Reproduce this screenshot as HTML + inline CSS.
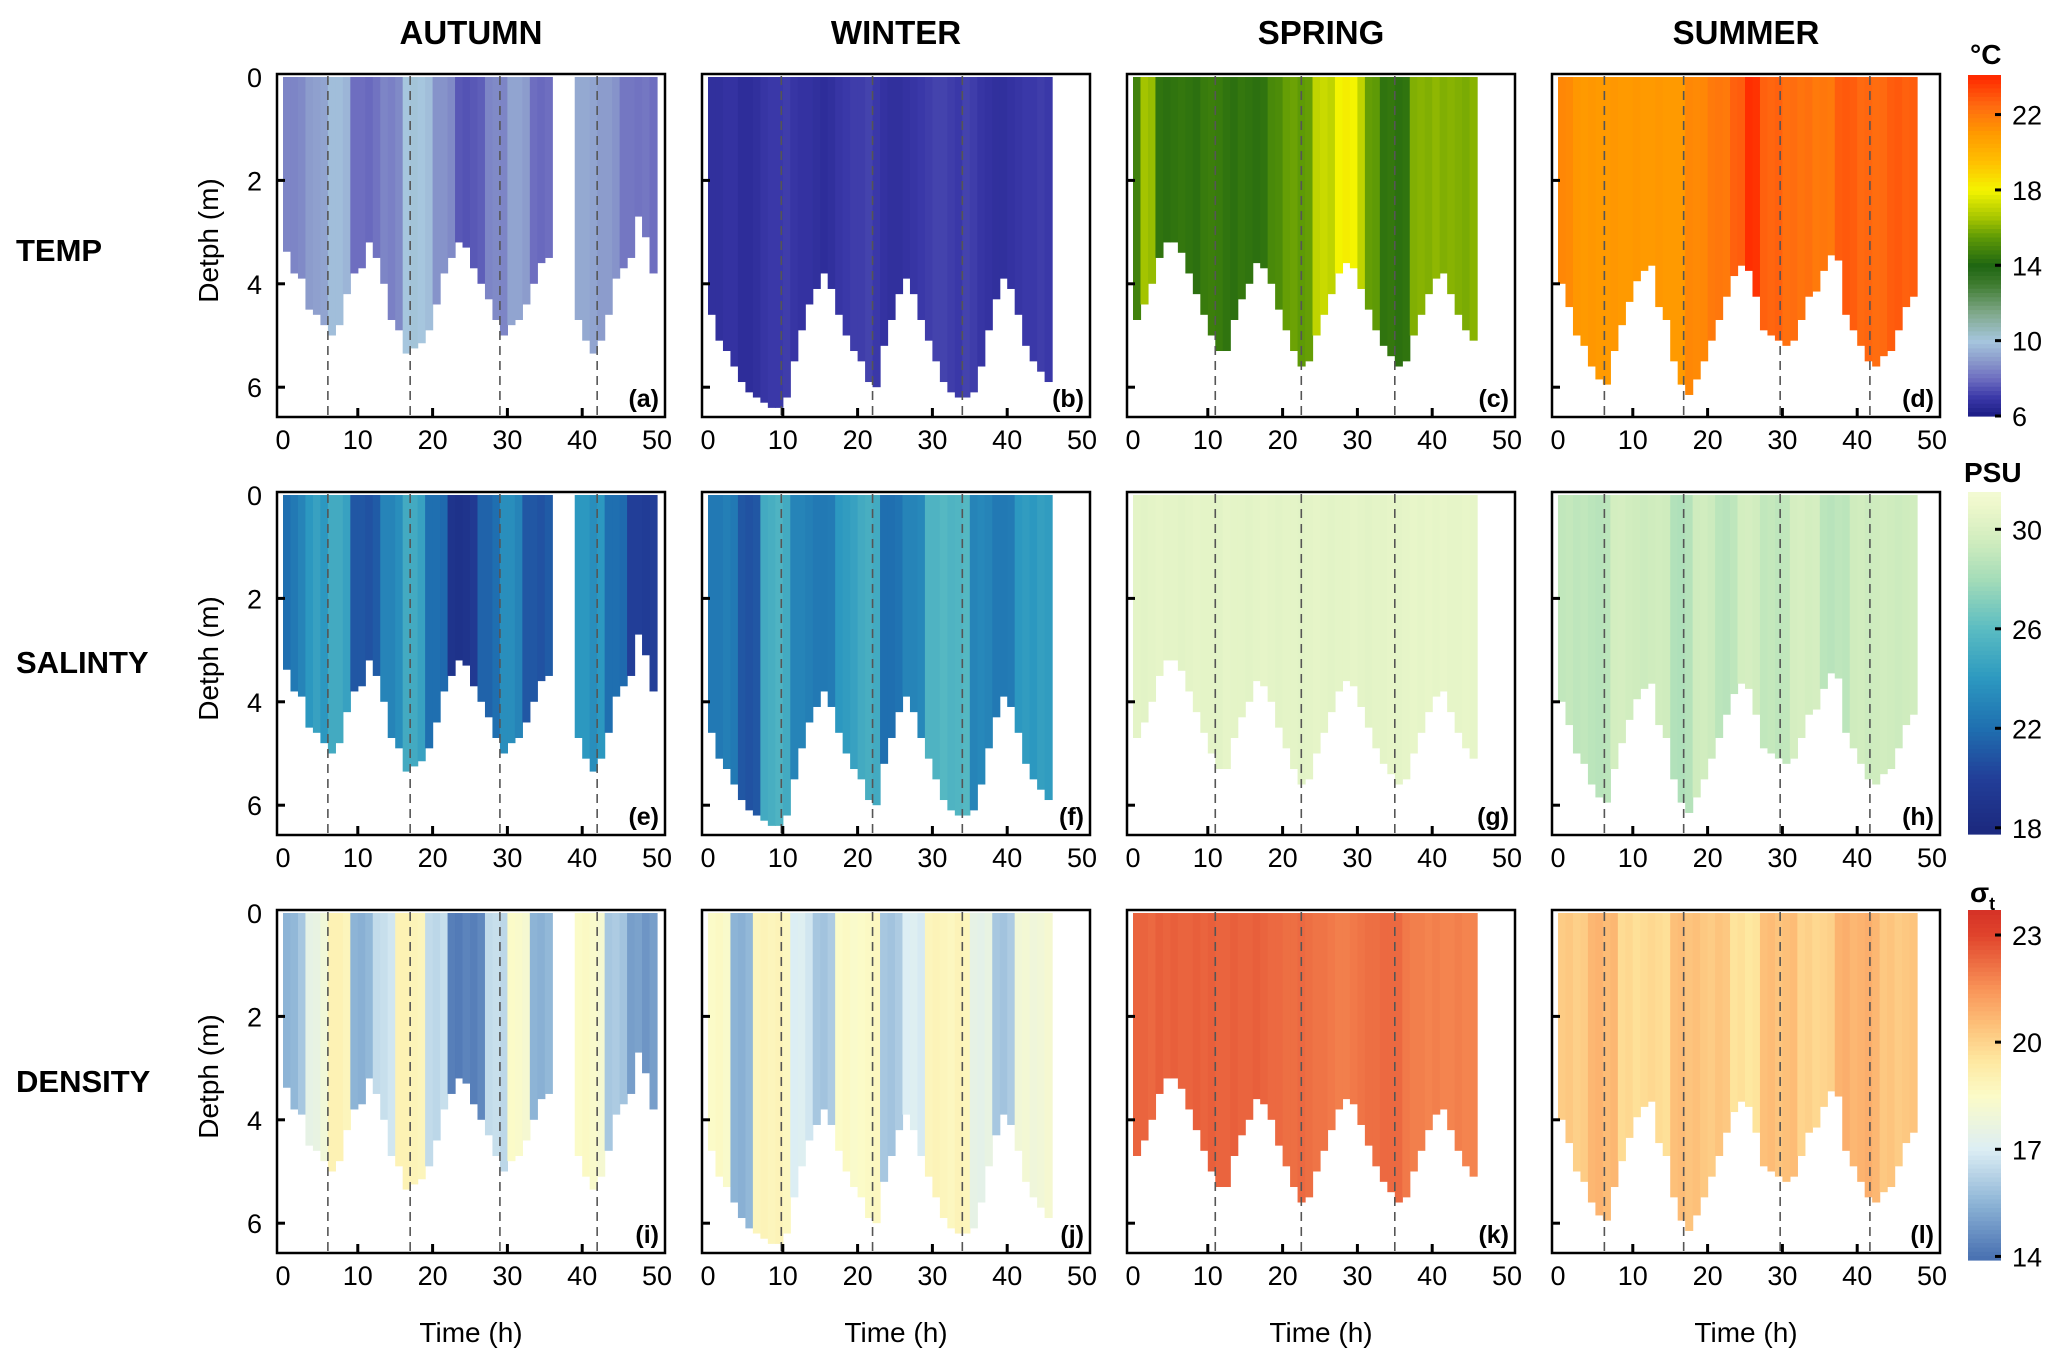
<!DOCTYPE html>
<html><head><meta charset="utf-8"><style>
html,body{margin:0;padding:0;background:#fff;}
svg{display:block;font-family:"Liberation Sans",sans-serif;}
</style></head><body>
<svg id="fig" width="2067" height="1367" viewBox="0 0 2067 1367" xmlns="http://www.w3.org/2000/svg"></svg>
<script>
// ---- data ----
const seasons = ["AUTUMN","WINTER","SPRING","SUMMER"];
const variables = ["TEMP","SALINTY","DENSITY"];
const panelLetters = ["a","b","c","d","e","f","g","h","i","j","k","l"];
const xTicks = [0,10,20,30,40,50];
const yTicks = [0,2,4,6];
const autumnHours = [0,1,2,3,4,5,6,7,8,9,10,11,12,13,14,15,16,17,18,19,20,21,22,23,24,25,26,27,28,29,30,31,32,33,34,35,39,40,41,42,43,44,45,46,47,48,49];
const autumnDepth = [3.38,3.8,3.9,4.5,4.6,4.8,5.0,4.8,4.2,3.8,3.7,3.2,3.5,4.0,4.7,4.9,5.35,5.25,5.15,4.9,4.4,3.8,3.5,3.2,3.3,3.7,4.0,4.3,4.7,5.0,4.8,4.7,4.4,4.0,3.6,3.5,4.7,5.1,5.35,5.1,4.6,3.9,3.7,3.5,2.7,3.1,3.8];
const autumnTemp = [8.5,8.5,8.6,9,9.1,9.2,9.8,9.8,9.6,8,8,7.9,8.1,8.5,8.4,8.6,10,10.1,10,9.8,8.8,8.8,8.6,7.6,7.5,7.6,7.7,8.5,8.6,8.5,9.2,9.2,9.0,8.0,7.9,8.0,9.3,9.3,9.2,9.0,9.0,8.8,8.2,8.2,8.1,8.2,8.0];
const autumnSal = [22,22.5,23,24,24.5,24,25,25,24.5,21,21,20.8,21.2,23,23,23.5,25,25,24.5,22,22,21.8,19,18.8,19,19.5,21.5,21.5,22,23.5,23.5,23,21,21,20.8,21.2,24,24,23.5,24,22,22,21.8,20,20,19.8,20];
const autumnDen = [15.5,15.6,16,17.5,17.6,18,19,19,18.8,15.5,15.4,15.6,16.5,16.6,16.8,19,19,18.9,18.8,16.5,16.4,16.6,14.3,14.2,14.4,14.3,14.5,16.5,16.6,16.4,18.5,18.4,18.2,15.5,15.4,15.6,18.5,18.6,18.4,18.2,16,16.1,15.9,15,15.1,14.8,15];
const winterHours = [0,1,2,3,4,5,6,7,8,9,10,11,12,13,14,15,16,17,18,19,20,21,22,23,24,25,26,27,28,29,30,31,32,33,34,35,36,37,38,39,40,41,42,43,44,45];
const winterDepth = [4.6,5.1,5.3,5.6,5.9,6.1,6.2,6.3,6.4,6.4,6.2,5.5,4.9,4.4,4.1,3.8,4.1,4.6,5.0,5.3,5.5,5.9,6.0,5.2,4.7,4.2,3.9,4.2,4.7,5.1,5.5,5.9,6.1,6.2,6.2,6.1,5.6,4.9,4.3,3.9,4.1,4.6,5.2,5.5,5.7,5.9];
const winterTemp = [6.7,6.7,6.8,6.8,6.6,6.6,6.7,6.9,7.0,7.0,7.1,6.9,6.8,6.8,6.7,6.6,6.7,6.9,7.0,7.1,7.1,7.2,7.0,6.8,6.7,6.7,6.8,6.9,7.0,7.1,7.2,7.2,7.1,7.0,7.2,7.1,6.9,6.8,6.7,6.7,6.8,6.9,7.0,7.0,7.1,7.0];
const winterSal = [22.5,22.5,22.8,22.5,21,20.8,21,25,25.2,25.5,25,23,23,22.8,22.5,22.5,22.6,24,24.2,24.5,25,25.2,25,22,22,22.2,23,23,23.2,25.5,25.5,25.8,25.5,25.6,25.8,23,23.2,23,22.5,22.5,22.6,24,24.2,24,24.4,24.2];
const winterDen = [18.5,18.6,18.4,15.5,15.4,15.6,18.8,18.9,18.8,18.9,18.7,17,17.1,16.8,16,15.9,16.1,18.5,18.6,18.4,18.5,18.6,18.7,16,15.9,16.1,17,17.1,16.9,18.8,18.9,18.8,18.7,18.9,18.8,17.5,17.4,17.6,16,15.9,16.1,18,18.1,17.9,18,18.2];
const springHours = winterHours;
const springDepth = [4.7,4.4,4.0,3.5,3.2,3.2,3.4,3.8,4.2,4.6,5.0,5.3,5.3,4.7,4.3,4.0,3.6,3.7,4.0,4.5,4.9,5.3,5.6,5.5,5.0,4.6,4.2,3.8,3.6,3.7,4.1,4.5,4.9,5.2,5.4,5.6,5.5,5.0,4.6,4.2,3.9,3.8,4.2,4.6,4.9,5.1];
const springTemp = [14.8,16.5,16.3,14.4,14.3,14.4,14.5,14.4,14.3,14.6,14.7,14.6,14.4,14.3,14.5,14.4,14.3,14.4,15.0,15.1,15.6,15.7,15.5,15.6,17,17.2,17,18,18.2,18,17,15.6,15.5,14.4,14.5,14.3,14.4,16,16.1,16,16.2,16,16.1,16,15.9,16.1];
const springSal = [30.5,30.4,30.5,30.6,30.5,30.5,30.4,30.5,30.6,30.5,30.5,30.4,30.6,30.5,30.5,30.4,30.5,30.6,30.5,30.4,30.5,30.5,30.4,30.5,30.6,30.5,30.4,30.5,30.5,30.6,30.5,30.4,30.5,30.5,30.6,30.5,30.6,30.7,30.6,30.7,30.6,30.7,30.6,30.6,30.7,30.6];
const springDen = [22.4,22.4,22.3,22.5,22.4,22.5,22.4,22.4,22.5,22.4,22.5,22.4,22.4,22.5,22.4,22.4,22.5,22.4,22.3,22.3,22.2,22.2,22.3,22.2,22.1,22.1,22.0,21.9,21.9,22.0,22.1,22.2,22.2,22.3,22.3,22.3,22.0,21.9,21.9,21.8,21.9,21.8,21.8,21.9,21.8,21.8];
const summerHours = [0,1,2,3,4,5,6,7,8,9,10,11,12,13,14,15,16,17,18,19,20,21,22,23,24,25,26,27,28,29,30,31,32,33,34,35,36,37,38,39,40,41,42,43,44,45,46,47];
const summerDepth = [4.0,4.45,5.0,5.2,5.6,5.85,5.95,5.3,4.8,4.35,3.95,3.75,3.65,4.45,4.7,5.5,5.95,6.15,5.85,5.5,5.1,4.7,4.25,3.85,3.65,3.75,4.25,4.9,5.0,5.1,5.2,5.1,4.7,4.25,4.15,3.75,3.45,3.55,4.6,4.9,5.2,5.5,5.6,5.4,5.3,4.9,4.45,4.25];
const summerTemp = [21.6,21.5,21.1,21,21.1,21,21,21.1,21,21,21.1,21,21,21.1,21,21,21,21.6,21.5,21.6,22,22.1,22,22.7,22.8,23.9,23.8,22.7,22.6,22.7,22.3,22.4,22.2,22.3,22,22.1,22,22.8,22.9,22.8,22.5,22.6,22.4,22.5,22.8,22.9,22.7,22.8];
const summerSal = [29,29.1,28.9,29,28.8,28.7,28.8,29.7,29.8,29.6,29.5,29.4,29.5,29.6,29.5,28.5,28.4,28.6,29.5,29.6,29.4,28.8,28.7,28.9,29.7,29.8,29.6,29,29.1,28.9,29,29.8,29.9,29.7,29.8,28.8,28.7,28.9,28.8,29.5,29.6,29.4,29.5,29.6,29.5,29.4,29.5,29.6];
const summerDen = [20.2,20.3,20.1,20.2,20.7,20.8,20.6,20.7,19.8,19.9,19.7,19.8,19.9,19.8,19.7,20.5,20.6,20.4,20.5,20.3,20.2,20.4,20.3,19.6,19.7,19.5,19.6,20.5,20.6,20.4,20.5,20.6,20,20.1,19.9,20,20.1,20.8,20.9,20.7,20.8,20.9,20.7,20.3,20.4,20.2,20.3,20.4];
const dashedTimes = [[6,17,29,42],[9.8,22,34],[11,22.5,35],[6.2,16.8,29.7,41.7]];
const tempBarTicks = [6,10,14,18,22];
const salBarTicks = [18,22,26,30];
const denBarTicks = [14,17,20,23];

// ---- layout ----
const NS="http://www.w3.org/2000/svg";
const svg=document.getElementById('fig');
const lefts=[277,702,1127,1552], tops=[74,492,910], PW=388, PH=343;
function mk(tag,attrs,parent){const e=document.createElementNS(NS,tag);for(const k in attrs)e.setAttribute(k,attrs[k]);(parent||svg).appendChild(e);return e;}
function xs(c,h){return lefts[c]+6+h*7.48;}
function ys(r,d){return tops[r]+3+d*51.7;}

function hex(h){return [parseInt(h.slice(1,3),16),parseInt(h.slice(3,5),16),parseInt(h.slice(5,7),16)];}
function cmap(stops){return v=>{if(v<=stops[0][0])return 'rgb('+hex(stops[0][1])+')';for(let i=1;i<stops.length;i++){if(v<=stops[i][0]){const t=(v-stops[i-1][0])/(stops[i][0]-stops[i-1][0]);const a=hex(stops[i-1][1]),b=hex(stops[i][1]);return 'rgb('+a.map((x,j)=>Math.round(x+(b[j]-x)*t)).join(',')+')';}}return 'rgb('+hex(stops[stops.length-1][1])+')';};}
const tempC=cmap([[6,'#1c1c84'],[7,'#3a38a8'],[8,'#6e6ec0'],[9,'#8c9ccc'],[10,'#a6c6de'],[11.5,'#7fa88a'],[13,'#3f7c30'],[14,'#1f6612'],[15.5,'#5e9a06'],[16.5,'#a4c400'],[18,'#f4f400'],[19.5,'#ffc000'],[21,'#ff9a00'],[22.5,'#ff6a10'],[24,'#ff2a00']]);
const salC=cmap([[18,'#1c2a80'],[20,'#223e98'],[22,'#1f6fb0'],[24,'#2c98c0'],[26,'#5abcc2'],[28,'#a4dcb8'],[29.5,'#cfecbe'],[31,'#eef8cc'],[32,'#f8fcda']]);
const denC=cmap([[14,'#4a72b2'],[15.5,'#8db4d6'],[17,'#dceef4'],[18.5,'#fbfbc8'],[19.5,'#fee8a0'],[20.5,'#fdc079'],[21.5,'#f99458'],[23,'#e0442c'],[24,'#d02a24']]);
const cmaps=[tempC,salC,denC];

const seasonData=[
 {hours:autumnHours,depth:autumnDepth,vals:[autumnTemp,autumnSal,autumnDen]},
 {hours:winterHours,depth:winterDepth,vals:[winterTemp,winterSal,winterDen]},
 {hours:springHours,depth:springDepth,vals:[springTemp,springSal,springDen]},
 {hours:summerHours,depth:summerDepth,vals:[summerTemp,summerSal,summerDen]}];

seasons.forEach((s,c)=>{const t=mk('text',{x:lefts[c]+PW/2,y:44,'text-anchor':'middle','font-size':33,'font-weight':'bold'});t.textContent=s;

});
const rowLabelY=[261,673,1092];
variables.forEach((v,r)=>{const t=mk('text',{x:16,y:rowLabelY[r],'font-size':31,'font-weight':'bold'});t.textContent=v;

});

for(let r=0;r<3;r++){
 const cy=tops[r]+PH/2-5;
 const yt=mk('text',{x:0,y:0,transform:`translate(218,${cy}) rotate(-90)`,'text-anchor':'middle','font-size':28});
 yt.textContent='Detph (m)';
 
 
 for(let c=0;c<4;c++){
  const g=mk('g',{});
  
  
  const sd=seasonData[c], vals=sd.vals[r], cm=cmaps[r];
  const top=tops[r];
  sd.hours.forEach((h,i)=>{
   const x0=xs(c,h), x1=xs(c,h+1);
   const rc=mk('rect',{x:x0.toFixed(2),y:ys(r,0).toFixed(2),width:(x1-x0+0.6).toFixed(2),height:(ys(r,sd.depth[i])-ys(r,0)).toFixed(2),fill:cm(vals[i])},g);
   
   
  });
  dashedTimes[c].forEach(t=>{const l=mk('line',{x1:xs(c,t),x2:xs(c,t),y1:top+2,y2:top+PH-2,stroke:'#555','stroke-width':1.6,'stroke-dasharray':'9,6'},g);
   
   });
  const f=mk('rect',{x:lefts[c],y:top,width:PW,height:PH,fill:'none',stroke:'#000','stroke-width':2.5},g);
  
  
  xTicks.forEach(v=>{const x=xs(c,v);
   if(v>0&&v<50){const tk=mk('line',{x1:x,x2:x,y1:top+PH,y2:top+PH-9,stroke:'#000','stroke-width':3},g);
    
    }
   const tl=mk('text',{x:x,y:top+PH+32,'text-anchor':'middle','font-size':27},g);tl.textContent=v;
   
   });
  yTicks.forEach(v=>{const y=ys(r,v);
   if(v>0){const tk=mk('line',{x1:lefts[c],x2:lefts[c]+8,y1:y,y2:y,stroke:'#000','stroke-width':3},g);
    
    }
   if(c===0){const tl=mk('text',{x:262,y:y+10,'text-anchor':'end','font-size':27},g);tl.textContent=v;
    
    }});
  const pl=mk('text',{x:lefts[c]+PW-6,y:top+PH-10,'text-anchor':'end','font-size':25,'font-weight':'bold'},g);
  pl.textContent='('+panelLetters[r*4+c]+')';
  
  
  if(r===2){const xt=mk('text',{x:lefts[c]+PW/2,y:1342,'text-anchor':'middle','font-size':28},g);xt.textContent='Time (h)';
   
   }
 }
}

const bars=[{top:75,bot:416,lo:6,hi:24.1,ticks:tempBarTicks,unit:'°C',uy:64},
 {top:492,bot:834,lo:17.75,hi:31.5,ticks:salBarTicks,unit:'PSU',uy:482},
 {top:910,bot:1260,lo:13.9,hi:23.7,ticks:denBarTicks,unit:'σ',uy:902}];
bars.forEach((b,r)=>{
 const g=mk('g',{});
 
 
 const n=80;
 for(let i=0;i<n;i++){const v=b.lo+(b.hi-b.lo)*(i+0.5)/n;const h=(b.bot-b.top)/n;
  mk('rect',{x:1968,y:(b.bot-(i+1)*h).toFixed(2),width:33,height:(h+0.6).toFixed(2),fill:cmaps[r](v)},g);}
 b.ticks.forEach(v=>{const y=b.bot-(v-b.lo)/(b.hi-b.lo)*(b.bot-b.top);
  mk('line',{x1:1995,x2:2001,y1:y,y2:y,stroke:'#000','stroke-width':3},g);
  const t=mk('text',{x:2012,y:y+10,'font-size':27},g);t.textContent=v;
  
  });
 const u=mk('text',{x:r===1?1964:1970,y:b.uy,'font-size':28,'font-weight':'bold'},g);u.textContent=b.unit;
 if(r===2){const s=mk('tspan',{'font-size':18,dy:8},u);s.textContent='t';}
 
 
});
</script>
</body></html>
